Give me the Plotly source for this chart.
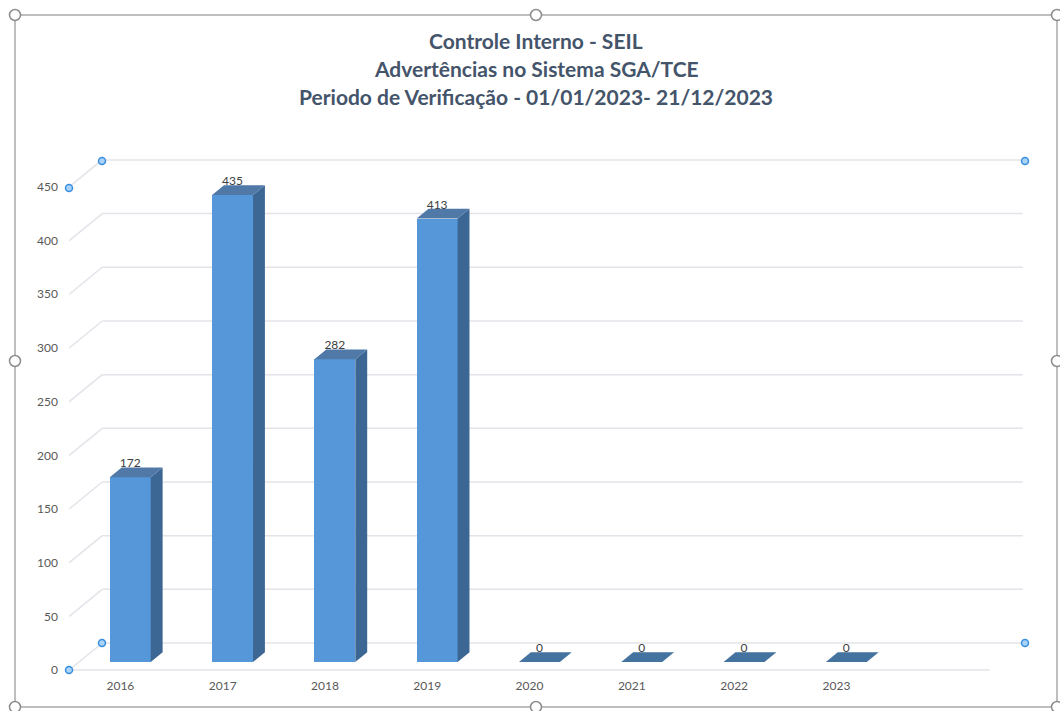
import plotly.graph_objects as go

# ---------------- data ----------------
years = ["2016", "2017", "2018", "2019", "2020", "2021", "2022", "2023"]
advertencias = [172, 435, 282, 413, 0, 0, 0, 0]
y_ticks = [0, 50, 100, 150, 200, 250, 300, 350, 400, 450]
title_lines = [
    "Controle Interno - SEIL",
    "Advertências no Sistema SGA/TCE",
    "Periodo de Verificação - 01/01/2023- 21/12/2023",
]

# ---------------- geometry / style ----------------
W, H = 1060, 711
L, R, T, B = 59, 1041, 144, 677
XR = [-0.6, 9.0]
YR = [-6.5, 490]
PXU = (R - L) / (XR[1] - XR[0])     # px per category unit
PYV = (B - T) / (YR[1] - YR[0])     # px per value unit
DX = 33 / PXU                        # depth offset (x) of back wall
DY = 27 / PYV                        # depth offset (y) of back wall
F0, F1 = 0.30, 0.66                  # bar depth fraction (front, back)
BW = 0.40                            # bar width
FONT = "Lato"
GRID = "#e3e4ea"

def px(xp):  # pixel -> paper x
    return (xp - L) / (R - L)

def py(yp):  # pixel -> paper y
    return (B - yp) / (B - T)

fig = go.Figure()
n = len(years)
x_left, x_right = -0.5, n + 0.5

shapes = []
# back wall gridlines + left wall diagonals + floor front line (below bars)
for t in y_ticks:
    shapes.append(dict(type="line", xref="x", yref="y", layer="below",
                       x0=x_left + DX, x1=x_right + DX, y0=t + DY, y1=t + DY,
                       line=dict(color=GRID, width=1.5)))
    shapes.append(dict(type="line", xref="x", yref="y", layer="below",
                       x0=x_left, x1=x_left + DX, y0=t, y1=t + DY,
                       line=dict(color=GRID, width=1.5)))
shapes.append(dict(type="line", xref="x", yref="y", layer="below",
                   x0=x_left, x1=x_right, y0=0, y1=0,
                   line=dict(color=GRID, width=1.5)))

# bars (front faces)
base = F0 * DY
xoff = F0 * DX
bar_x = [i + xoff for i in range(n)]
fig.add_trace(go.Bar(x=bar_x, y=advertencias, base=[base] * n, width=BW,
                     marker=dict(color="#5597d9", line=dict(width=0)),
                     hoverinfo="skip", showlegend=False))

# side and top faces of the 3D columns
ddx = (F1 - F0) * DX
ddy = (F1 - F0) * DY
sx, sy, tx, ty, zx, zy = [], [], [], [], [], []
for i, v in enumerate(advertencias):
    xl = bar_x[i] - BW / 2
    xr = bar_x[i] + BW / 2
    top = base + v
    if v > 0:
        sx += [xr, xr + ddx, xr + ddx, xr, xr, None]
        sy += [base, base + ddy, top + ddy, top, base, None]
        tx += [xl, xr, xr + ddx, xl + ddx, xl, None]
        ty += [top, top, top + ddy, top + ddy, top, None]
    else:
        zx += [xl, xr, xr + ddx, xl + ddx, xl, None]
        zy += [top, top, top + ddy, top + ddy, top, None]

fig.add_trace(go.Scatter(x=sx, y=sy, mode="lines", fill="toself",
                         fillcolor="#3c6693", line=dict(width=0, color="#3c6693"),
                         hoverinfo="skip", showlegend=False))
fig.add_trace(go.Scatter(x=tx, y=ty, mode="lines", fill="toself",
                         fillcolor="#5079a8", line=dict(width=0, color="#5079a8"),
                         hoverinfo="skip", showlegend=False))
fig.add_trace(go.Scatter(x=zx, y=zy, mode="lines", fill="toself",
                         fillcolor="#44739f", line=dict(width=0, color="#44739f"),
                         hoverinfo="skip", showlegend=False))

# data labels
fig.add_trace(go.Scatter(x=bar_x, y=[base + v + ddy * 0.7 for v in advertencias],
                         mode="text", text=[str(v) for v in advertencias],
                         textposition="top center",
                         textfont=dict(family=FONT, size=12, color="#404040"),
                         hoverinfo="skip", showlegend=False))

# titles
annotations = []
for k, line in enumerate(title_lines):
    annotations.append(dict(text="<b>%s</b>" % line, x=px(536), y=py(40 + k * 28.5),
                            xref="paper", yref="paper", showarrow=False,
                            xanchor="center", yanchor="middle",
                            font=dict(family=FONT, size=21, color="#44546a")))

# chart frame + selection handles
shapes.append(dict(type="rect", xref="paper", yref="paper",
                   x0=px(15), x1=px(1057), y0=py(15), y1=py(707),
                   line=dict(color="#a9a9a9", width=1.5), fillcolor="rgba(0,0,0,0)"))
for hx, hy in [(15, 15), (536, 15), (1057, 15), (15, 361), (1057, 361),
               (15, 707), (536, 707), (1057, 707)]:
    shapes.append(dict(type="circle", xref="paper", yref="paper",
                       xsizemode="pixel", ysizemode="pixel",
                       xanchor=px(hx), yanchor=py(hy), x0=-5.5, x1=5.5, y0=-5.5, y1=5.5,
                       line=dict(color="#8c8c8c", width=1.5), fillcolor="white"))
for hx, hy in [(69, 188), (102, 161), (1025, 161), (69, 670), (102, 643), (1025, 643)]:
    shapes.append(dict(type="circle", xref="paper", yref="paper",
                       xsizemode="pixel", ysizemode="pixel",
                       xanchor=px(hx), yanchor=py(hy), x0=-3.5, x1=3.5, y0=-3.5, y1=3.5,
                       line=dict(color="#3a8fe0", width=1.5), fillcolor="#a9d3f7"))

fig.update_layout(
    width=W, height=H,
    margin=dict(l=L, r=W - R, t=T, b=H - B),
    paper_bgcolor="white", plot_bgcolor="white",
    showlegend=False, bargap=0,
    annotations=annotations, shapes=shapes,
    font=dict(family=FONT, color="#595959"),
)
fig.update_xaxes(range=XR, tickmode="array", tickvals=list(range(n)), ticktext=years,
                 showgrid=False, zeroline=False, showline=False, ticks="",
                 tickfont=dict(family=FONT, size=12, color="#595959"), fixedrange=True)
fig.update_yaxes(range=YR, tickmode="array", tickvals=y_ticks,
                 showgrid=False, zeroline=False, showline=False, ticks="",
                 tickfont=dict(family=FONT, size=12, color="#595959"), fixedrange=True)

fig.write_html("out.html", config={"displayModeBar": False},
               post_script="document.body.style.margin='0px';document.body.style.overflow='hidden';")
